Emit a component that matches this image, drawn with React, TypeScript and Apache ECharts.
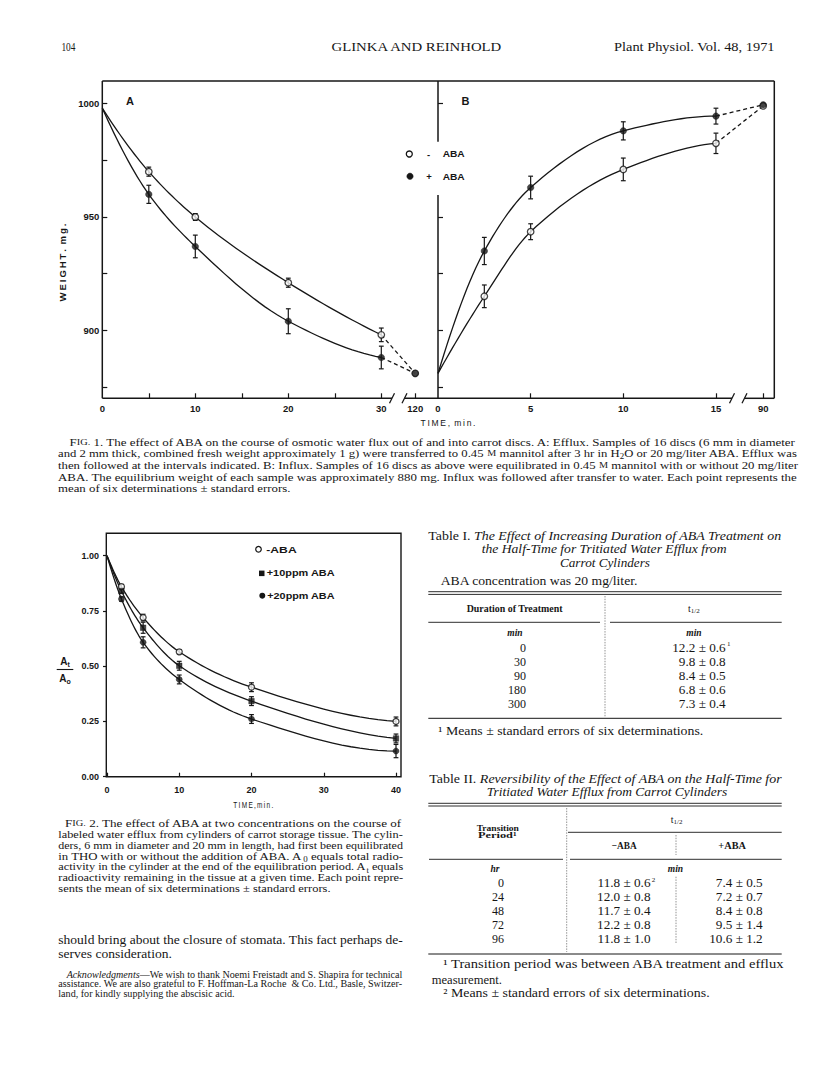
import React, { useEffect, useRef } from 'react';
import * as echarts from 'echarts';

// ---------------- DATA ----------------
// Fig. 1A efflux (weight, mg)
const A_TIMES = [0, 5, 10, 20, 30, 120];
const A_MINUS = [998, 970, 950, 921, 898, 881];
const A_MINUS_ERR = [0, 2, 1.5, 2, 3, 0];
const A_PLUS = [998, 960, 937, 904, 888, 881];
const A_PLUS_ERR = [0, 4, 5, 5.5, 5, 0];
// Fig. 1B influx
const B_TIMES = [0, 2.5, 5, 10, 15, 90];
const B_MINUS = [881, 915, 943.5, 971, 982.5, 999];
const B_MINUS_ERR = [0, 5, 3.5, 5, 4.5, 0];
const B_PLUS = [881, 935, 963, 988, 994.5, 999.5];
const B_PLUS_ERR = [0, 6, 5, 4, 3.5, 0];
// Fig. 2 (At/Ao)
const F2_TIMES = [0, 2, 5, 10, 20, 40];
const F2_NO_ABA = [1.0, 0.86, 0.72, 0.565, 0.405, 0.25];
const F2_NO_ABA_ERR = [0, 0.01, 0.015, 0.01, 0.02, 0.02];
const F2_10PPM = [1.0, 0.84, 0.674, 0.502, 0.342, 0.173];
const F2_10PPM_ERR = [0, 0.01, 0.025, 0.02, 0.02, 0.02];
const F2_20PPM = [1.0, 0.804, 0.608, 0.44, 0.261, 0.116];
const F2_20PPM_ERR = [0, 0.01, 0.025, 0.02, 0.02, 0.03];

// ticks / labels
const A_Y_TICKS = [875, 900, 925, 950, 975, 1000];
const B_Y_TICKS = [875, 900, 925, 950, 1000];
const A_Y_LABELS = [900, 950, 1000];
const A_X_TICKS = [5, 10, 15, 20, 25, 30];
const A_X_LABELS = [0, 10, 20, 30];
const B_X_TICKS = [5, 10, 15];
const B_X_LABELS = [0, 5, 10, 15];
const A_BREAK = { value: 120, at: 33.65 };
const B_BREAK = { value: 90, at: 17.55 };

// tables
const T1_DURATION = ['0', '30', '90', '180', '300'];
const T1_HALF = ['12.2 ± 0.6', '9.8 ± 0.8', '8.4 ± 0.5', '6.8 ± 0.6', '7.3 ± 0.4'];
const T2_PERIOD = ['0', '24', '48', '72', '96'];
const T2_MINUS = ['11.8 ± 0.6', '12.0 ± 0.8', '11.7 ± 0.4', '12.2 ± 0.8', '11.8 ± 1.0'];
const T2_PLUS = ['7.4 ± 0.5', '7.2 ± 0.7', '8.4 ± 0.8', '9.5 ± 1.4', '10.6 ± 1.2'];

// ---------------- STYLE ----------------
const INK = '#161616';
const SERIF = "'Liberation Serif', 'Times New Roman', serif";
const SANS = "'Liberation Sans', Arial, Helvetica, sans-serif";

let _ctx: any = null;
function mw(text: string, font: string) {
  if (!_ctx) _ctx = document.createElement('canvas').getContext('2d');
  _ctx.font = font;
  return _ctx.measureText(text).width;
}
function fs(size: number, family: string, style = 'normal', weight = 'normal') {
  return `${style} ${weight} ${size}px ${family}`;
}
function richFor(size: number, family: string, weight: string) {
  return {
    i: { font: fs(size, family, 'italic', weight) },
    sc: { font: fs(Math.round(size * 0.8 * 10) / 10, family, 'normal', weight) },
    sub: { font: fs(Math.round(size * 0.7 * 10) / 10, family, 'normal', weight), verticalAlign: 'bottom', lineHeight: size * 0.7 },
    sup: { font: fs(Math.round(size * 0.65 * 10) / 10, family, 'normal', weight), verticalAlign: 'top', lineHeight: size * 0.65 },
  } as any;
}
function tx(segs: any, x: number, y: number, size: number, opts: any = {}) {
  const family = opts.family || SERIF;
  const weight = opts.weight || 'normal';
  const style = opts.style || 'normal';
  const base = fs(size, family, style, weight);
  const rich = richFor(size, family, weight);
  const list = typeof segs === 'string' ? [segs] : segs;
  let natural = 0;
  let str = '';
  let hasRich = false;
  for (const s of list) {
    if (typeof s === 'string') {
      natural += mw(s, base);
      str += s;
    } else {
      hasRich = true;
      natural += mw(s[0], rich[s[1]].font);
      str += '{' + s[1] + '|' + s[0] + '}';
    }
  }
  const sx = opts.w ? opts.w / natural : opts.sx || 1;
  const st: any = {
    text: str,
    font: base,
    fill: opts.fill || INK,
    textAlign: opts.align || 'left',
    textVerticalAlign: 'middle',
  };
  if (hasRich) {
    st.rich = rich;
    st.lineHeight = size * 1.3;
  }
  return { type: 'text', x, y, scaleX: sx, rotation: opts.rotation || 0, style: st, z: 10, silent: true };
}
function para(lines: any[], right: number, y0: number, dy: number, size: number, opts: any = {}) {
  const els: any[] = [];
  const scales: number[] = [];
  lines.forEach((l, i) => {
    const last = i === lines.length - 1 && !l.full;
    if (!last) {
      const el = tx(l.segs, l.x, y0 + i * dy, size, { ...opts, w: right - l.x });
      scales.push(el.scaleX);
      els.push(el);
    } else {
      const avg = scales.length ? scales.reduce((a, b) => a + b, 0) / scales.length : 1;
      els.push(tx(l.segs, l.x, y0 + i * dy, size, { ...opts, sx: avg }));
    }
  });
  return els;
}
function ln(x1: number, y1: number, x2: number, y2: number, w = 1.3, dash?: number[], color = INK) {
  return { type: 'line', shape: { x1, y1, x2, y2 }, style: { stroke: color, lineWidth: w, lineDash: dash || null }, z: 5, silent: true };
}

// ---------------- GEOMETRY ----------------
const F1 = { top: 81, bottom: 398.3, aLeft: 102.3, mid: 438, right: 774.3 };
const A_PX = 9.3; // px per minute, panel A
const B_PX = 18.53; // px per minute, panel B
const F2 = { left: 107, top: 555.7, width: 289, height: 221, fTop: 533.3, fLeft: 106.3, fRight: 401, fBottom: 776.7 };

const posA = (t: number) => (t === A_BREAK.value ? A_BREAK.at : t);
const posB = (t: number) => (t === B_BREAK.value ? B_BREAK.at : t);
const ident = (t: number) => t;
const pts = (times: number[], vals: number[], pos: (t: number) => number, from: number, to: number) =>
  times.slice(from, to).map((t, i) => [pos(t), vals[from + i]]);

// monotone cubic (Fritsch–Carlson) path through pixel points
function pchip(P: number[][], steps = 16) {
  const n = P.length;
  if (n < 3) return P;
  const h: number[] = [], d: number[] = [];
  for (let i = 0; i < n - 1; i++) {
    h[i] = P[i + 1][0] - P[i][0];
    d[i] = (P[i + 1][1] - P[i][1]) / h[i];
  }
  const m: number[] = new Array(n).fill(0);
  const endSlope = (h0: number, h1: number, d0: number, d1: number) => {
    let s = ((2 * h0 + h1) * d0 - h0 * d1) / (h0 + h1);
    if (Math.sign(s) !== Math.sign(d0)) s = 0;
    else if (Math.sign(d0) !== Math.sign(d1) && Math.abs(s) > Math.abs(3 * d0)) s = 3 * d0;
    return s;
  };
  m[0] = endSlope(h[0], h[1], d[0], d[1]);
  m[n - 1] = endSlope(h[n - 2], h[n - 3], d[n - 2], d[n - 3]);
  for (let i = 1; i < n - 1; i++) {
    if (d[i - 1] * d[i] <= 0) m[i] = 0;
    else {
      const w1 = 2 * h[i] + h[i - 1];
      const w2 = h[i] + 2 * h[i - 1];
      m[i] = (w1 + w2) / (w1 / d[i - 1] + w2 / d[i]);
    }
  }
  const out: number[][] = [];
  for (let i = 0; i < n - 1; i++) {
    for (let s = 0; s <= steps; s++) {
      if (i > 0 && s === 0) continue;
      const t = s / steps;
      const t2 = t * t, t3 = t2 * t;
      const h00 = 2 * t3 - 3 * t2 + 1, h10 = t3 - 2 * t2 + t, h01 = -2 * t3 + 3 * t2, h11 = t3 - t2;
      out.push([
        P[i][0] + t * h[i],
        h00 * P[i][1] + h10 * h[i] * m[i] + h01 * P[i + 1][1] + h11 * h[i] * m[i + 1],
      ]);
    }
  }
  return out;
}

function curve(axis: number, data: number[][]) {
  return {
    type: 'custom', xAxisIndex: axis, yAxisIndex: axis, silent: true, z: 2, data,
    renderItem: (params: any, api: any) => {
      if (params.dataIndex !== 0) return null;
      const px = data.map((p) => api.coord(p));
      return {
        type: 'polyline',
        shape: { points: pchip(px) },
        style: { stroke: INK, lineWidth: 1.3, fill: null },
      };
    },
  };
}
function dashed(axis: number, data: number[][]) {
  return {
    type: 'line', xAxisIndex: axis, yAxisIndex: axis, data, symbol: 'none', silent: true,
    lineStyle: { color: INK, width: 1.3, type: [4, 3] }, z: 2,
  };
}
function errSeries(axis: number, times: number[], vals: number[], errs: number[], pos: (t: number) => number) {
  return {
    type: 'custom', xAxisIndex: axis, yAxisIndex: axis, silent: true, z: 3,
    data: times.map((t, i) => [pos(t), vals[i], errs[i]]).filter((d) => d[2] > 0),
    renderItem: (params: any, api: any) => {
      const x = api.value(0), y = api.value(1), e = api.value(2);
      const p1 = api.coord([x, y + e]);
      const p2 = api.coord([x, y - e]);
      const w = 2.4;
      const s = { stroke: INK, lineWidth: 1.2 };
      return {
        type: 'group',
        children: [
          { type: 'line', shape: { x1: p1[0], y1: p1[1], x2: p2[0], y2: p2[1] }, style: s },
          { type: 'line', shape: { x1: p1[0] - w, y1: p1[1], x2: p1[0] + w, y2: p1[1] }, style: s },
          { type: 'line', shape: { x1: p2[0] - w, y1: p2[1], x2: p2[0] + w, y2: p2[1] }, style: s },
        ],
      };
    },
  };
}
function markers(axis: number, data: any[], kind: 'open' | 'filled' | 'square', size: number) {
  return {
    type: 'scatter', xAxisIndex: axis, yAxisIndex: axis, data, silent: true, z: 4,
    symbol: kind === 'square' ? 'rect' : 'circle', symbolSize: size,
    itemStyle: kind === 'open'
      ? { color: '#fff', borderColor: INK, borderWidth: 1.3 }
      : { color: INK, borderColor: INK, borderWidth: 0.5 },
  };
}

const tickLabel = { fontFamily: SANS, fontWeight: 'bold', fontSize: 9.5, color: INK };

function buildGraphics() {
  const g: any[] = [];
  // page header
  g.push(tx('104', 61.4, 46.7, 12.5, { w: 14 }));
  g.push(tx('GLINKA AND REINHOLD', 331.5, 46.7, 12.5, { w: 171.5 }));
  g.push(tx('Plant Physiol. Vol. 48, 1971', 614, 46.7, 12.5, { w: 161 }));

  // ---- Fig 1 frame ----
  const { top, bottom, aLeft, mid, right } = F1;
  g.push(ln(aLeft, top, right, top, 1.5));
  g.push(ln(aLeft, top, aLeft, bottom, 1.5));
  g.push(ln(right, top, right, bottom, 1.5));
  g.push(ln(mid, top, mid, 141.7, 1.5));
  g.push(ln(mid, 195, mid, bottom, 1.5));
  g.push(ln(aLeft, bottom, 392, bottom, 1.5));
  g.push(ln(404.5, bottom, mid, bottom, 1.5));
  g.push(ln(mid, bottom, 732, bottom, 1.5));
  g.push(ln(744.5, bottom, right, bottom, 1.5));
  for (const sx of [392, 404.5, 732, 744.5]) g.push(ln(sx - 2.5, bottom + 5, sx + 2.5, bottom - 5, 1.3));
  g.push(tx('A', 130, 100.7, 11, { family: SANS, weight: 'bold', align: 'center' }));
  g.push(tx('B', 465.5, 100.7, 11, { family: SANS, weight: 'bold', align: 'center' }));
  g.push(tx('W\u2009E\u2009I\u2009G\u2009H\u2009T\u2009.\u2009 m\u2009g\u2009.', 62.7, 262.5, 9.5,
    { family: SANS, weight: 'bold', align: 'center', rotation: Math.PI / 2, w: 78 }));
  g.push(tx('T\u2009I\u2009M\u2009E\u2009,\u2009 m\u2009i\u2009n\u2009.', 448, 423, 9, { family: SANS, align: 'center', w: 55 }));
  // legend
  g.push({ type: 'circle', shape: { cx: 409.3, cy: 154, r: 3 }, style: { fill: '#fff', stroke: INK, lineWidth: 1.3 }, z: 10 });
  g.push(tx('-', 428.5, 154, 9.5, { family: SANS, weight: 'bold', align: 'center' }));
  g.push(tx('ABA', 442.7, 154, 9.5, { family: SANS, weight: 'bold', w: 22 }));
  g.push({ type: 'circle', shape: { cx: 410, cy: 176.3, r: 3.2 }, style: { fill: INK, stroke: INK, lineWidth: 0.5 }, z: 10 });
  g.push(tx('+', 429, 176.3, 9.5, { family: SANS, weight: 'bold', align: 'center' }));
  g.push(tx('ABA', 442.7, 176.3, 9.5, { family: SANS, weight: 'bold', w: 22 }));

  // ---- Fig 1 caption ----
  g.push(...para([
    { x: 69.6, segs: ['F', ['IG.', 'sc'], ' 1. The effect of ABA on the course of osmotic water flux out of and into carrot discs. A: Efflux. Samples of 16 discs (6 mm in diameter'] },
    { x: 58, segs: ['and 2 mm thick, combined fresh weight approximately 1 g) were transferred to 0.45 ', ['M', 'sc'], ' mannitol after 3 hr in H', ['2', 'sub'], 'O or 20 mg/liter ABA. Efflux was'] },
    { x: 58, segs: ['then followed at the intervals indicated. B: Influx. Samples of 16 discs as above were equilibrated in 0.45 ', ['M', 'sc'], ' mannitol with or without 20 mg/liter'] },
    { x: 58, segs: ['ABA. The equilibrium weight of each sample was approximately 880 mg. Influx was followed after transfer to water. Each point represents the'] },
    { x: 58, segs: ['mean of six determinations ± standard errors.'] },
  ], 798, 442, 11.7, 11));

  // ---- Fig 2 frame, labels, legend ----
  g.push({ type: 'rect', shape: { x: F2.fLeft, y: F2.fTop, width: F2.fRight - F2.fLeft, height: F2.fBottom - F2.fTop },
    style: { fill: 'none', stroke: INK, lineWidth: 1.4 }, z: 5, silent: true });
  g.push(tx(['A', ['t', 'sub']], 65, 661.7, 10, { family: SANS, weight: 'bold', align: 'center' }));
  g.push(ln(56.7, 669.5, 73.3, 669.5, 1.1));
  g.push(tx(['A', ['o', 'sub']], 65, 678.5, 10, { family: SANS, weight: 'bold', align: 'center' }));
  g.push(tx('T\u2009I\u2009M\u2009E\u2009,\u2009m\u2009i\u2009n\u2009.', 253.3, 805, 9, { family: SANS, align: 'center', w: 40 }));
  g.push({ type: 'circle', shape: { cx: 258.5, cy: 549.3, r: 2.8 }, style: { fill: '#fff', stroke: INK, lineWidth: 1.2 }, z: 10 });
  g.push(tx('-ABA', 266.3, 549.3, 9, { family: SANS, weight: 'bold', w: 30.4 }));
  g.push({ type: 'rect', shape: { x: 259, y: 570.6, width: 5.5, height: 5.5 }, style: { fill: INK }, z: 10 });
  g.push(tx('+10ppm ABA', 266.7, 573.3, 9, { family: SANS, weight: 'bold', w: 68.3 }));
  g.push({ type: 'circle', shape: { cx: 262.3, cy: 595.7, r: 3 }, style: { fill: INK }, z: 10 });
  g.push(tx('+20ppm ABA', 267.3, 595.7, 9, { family: SANS, weight: 'bold', w: 67.7 }));

  // ---- Fig 2 caption ----
  g.push(...para([
    { x: 65, segs: ['F', ['IG.', 'sc'], ' 2. The effect of ABA at two concentrations on the course of'] },
    { x: 58.3, segs: ['labeled water efflux from cylinders of carrot storage tissue. The cylin-'] },
    { x: 58.3, segs: ['ders, 6 mm in diameter and 20 mm in length, had first been equilibrated'] },
    { x: 58.3, segs: ['in THO with or without the addition of ABA. A', ['0', 'sub'], ' equals total radio-'] },
    { x: 58.3, segs: ['activity in the cylinder at the end of the equilibration period. A', ['t', 'sub'], ' equals'] },
    { x: 58.3, segs: ['radioactivity remaining in the tissue at a given time. Each point repre-'] },
    { x: 58.3, segs: ['sents the mean of six determinations ± standard errors.'] },
  ], 403.3, 823.3, 10.95, 11));

  // ---- body text ----
  g.push(...para([
    { x: 58.3, segs: ['should bring about the closure of stomata. This fact perhaps de-'] },
    { x: 58.3, segs: ['serves consideration.'] },
  ], 403, 940, 13.3, 13.5));
  g.push(...para([
    { x: 66.7, segs: [['Acknowledgments', 'i'], '—We wish to thank Noemi Freistadt and S. Shapira for technical'] },
    { x: 58.3, segs: ['assistance. We are also grateful to F. Hoffman-La Roche  & Co. Ltd., Basle, Switzer-'] },
    { x: 58.3, segs: ['land, for kindly supplying the abscisic acid.'] },
  ], 402.7, 975, 9.1, 9.5));

  // ---- Table I ----
  g.push(tx(['Table I. ', ['The Effect of Increasing Duration of ABA Treatment on', 'i']], 428.3, 536.7, 11.5, { w: 353.4 }));
  g.push(tx([['the Half-Time for Tritiated Water Efflux from', 'i']], 481.7, 549.7, 11.5, { w: 245 }));
  g.push(tx([['Carrot Cylinders', 'i']], 560, 563.3, 11.5, { w: 90 }));
  g.push(tx('ABA concentration was 20 mg/liter.', 440.7, 581, 12.5, { w: 197.6 }));
  g.push(ln(428.3, 591.7, 781.7, 591.7, 0.9));
  g.push(ln(428.3, 594.4, 781.7, 594.4, 0.9));
  g.push(ln(605, 596, 605, 717, 0.8, [1.5, 1.2], '#777'));
  g.push(tx('Duration of Treatment', 466.7, 608.3, 9.5, { w: 96, weight: 'bold' }));
  g.push(tx(['t', ['1/2', 'sub']], 688, 608.3, 10, {}));
  g.push(ln(428.3, 622.3, 600, 622.3, 0.9));
  g.push(ln(610, 622.3, 781.7, 622.3, 0.9));
  g.push(tx('min', 515, 632.7, 9.5, { style: 'italic', weight: 'bold', align: 'center' }));
  g.push(tx('min', 694, 632.7, 9.5, { style: 'italic', weight: 'bold', align: 'center' }));
  const t1y = [647.7, 662, 676, 689.7, 704];
  T1_DURATION.forEach((v, i) => g.push(tx(v, 526, t1y[i], 12, { align: 'right' })));
  T1_HALF.forEach((v, i) => g.push(tx(v, 725.7, t1y[i], 12, { align: 'right', sx: 1.1 })));
  g.push(tx('1', 727, t1y[0] - 3.5, 7, {}));
  g.push(ln(428.3, 718.3, 781.7, 718.3, 1.0));
  g.push(tx('¹ Means ± standard errors of six determinations.', 438.3, 731, 12, { w: 265 }));

  // ---- Table II ----
  g.push(tx(['Table II. ', ['Reversibility of the Effect of ABA on the Half-Time for', 'i']], 429.3, 779.3, 11.5, { w: 353.4 }));
  g.push(tx([['Tritiated Water Efflux from Carrot Cylinders', 'i']], 486.7, 792.3, 11.5, { w: 240.6 }));
  g.push(ln(428.3, 803.3, 781.7, 803.3, 0.9));
  g.push(ln(428.3, 806, 781.7, 806, 0.9));
  g.push(ln(566.7, 808, 566.7, 952, 0.8, [1.5, 1.2], '#777'));
  g.push(tx(['t', ['1/2', 'sub']], 676.7, 819.3, 10, { align: 'center' }));
  g.push(ln(568, 832.3, 781.7, 832.3, 0.9));
  g.push(tx('Transition', 476.7, 828.3, 9, { w: 42.3, weight: 'bold' }));
  g.push(tx('Period¹', 478, 834.5, 9, { w: 38.7, weight: 'bold' }));
  g.push(tx('\u2212ABA', 611.7, 845.3, 10, { w: 25, weight: 'bold' }));
  g.push(tx('+ABA', 718.3, 845.3, 10, { w: 27.7, weight: 'bold' }));
  g.push(ln(676, 835, 676, 855, 0.8, [1.5, 1.2], '#777'));
  g.push(ln(429, 859.3, 563, 859.3, 0.9));
  g.push(ln(570, 859.3, 781.7, 859.3, 0.9));
  g.push(tx('hr', 495, 869, 9.5, { style: 'italic', weight: 'bold', align: 'center' }));
  g.push(tx('min', 675.5, 869, 9.5, { style: 'italic', weight: 'bold', align: 'center' }));
  g.push(ln(676, 876.7, 676, 943.3, 0.8, [1.5, 1.2], '#777'));
  const t2y = [883.3, 897, 910.7, 924.7, 938.7];
  T2_PERIOD.forEach((v, i) => g.push(tx(v, 504, t2y[i], 12, { align: 'right' })));
  T2_MINUS.forEach((v, i) => g.push(tx(v, 650.5, t2y[i], 12, { align: 'right', sx: 1.1 })));
  T2_PLUS.forEach((v, i) => g.push(tx(v, 762.7, t2y[i], 12, { align: 'right', sx: 1.1 })));
  g.push(tx('2', 651.8, t2y[0] - 3.5, 7, {}));
  g.push(ln(428.3, 954, 781.7, 954, 1.0));
  g.push(tx('¹ Transition period was between ABA treatment and efflux', 443.3, 964, 12, { w: 342.4 }));
  g.push(tx('measurement.', 431.7, 980, 12, { sx: 1.05 }));
  g.push(tx('² Means ± standard errors of six determinations.', 443.3, 992.7, 12, { w: 266.7 }));
  return g;
}

function buildOption() {
  const fmtA = (v: number) => (Math.abs(v - A_BREAK.at) < 0.01 ? String(A_BREAK.value) : String(v));
  const fmtB = (v: number) => (Math.abs(v - B_BREAK.at) < 0.01 ? String(B_BREAK.value) : String(v));
  const H1 = F1.bottom - F1.top;
  return {
    animation: false,
    backgroundColor: '#fff',
    grid: [
      { left: F1.aLeft, top: F1.top, width: F1.mid - F1.aLeft, height: H1, containLabel: false, outerBoundsMode: 'none' },
      { left: F1.mid, top: F1.top, width: F1.right - F1.mid, height: H1, containLabel: false, outerBoundsMode: 'none' },
      { left: F2.left, top: F2.top, width: F2.width, height: F2.height, containLabel: false, outerBoundsMode: 'none' },
    ],
    xAxis: [
      {
        type: 'value', gridIndex: 0, min: 0, max: (F1.mid - F1.aLeft) / A_PX,
        axisLine: { show: false }, splitLine: { show: false },
        axisTick: { show: true, inside: true, length: 5, customValues: [...A_X_TICKS, A_BREAK.at], lineStyle: { color: INK, width: 1.2 } },
        axisLabel: { ...tickLabel, margin: 5, customValues: [...A_X_LABELS, A_BREAK.at], formatter: fmtA },
      },
      {
        type: 'value', gridIndex: 1, min: 0, max: (F1.right - F1.mid) / B_PX,
        axisLine: { show: false }, splitLine: { show: false },
        axisTick: { show: true, inside: true, length: 5, customValues: [...B_X_TICKS, B_BREAK.at], lineStyle: { color: INK, width: 1.2 } },
        axisLabel: { ...tickLabel, margin: 5, customValues: [...B_X_LABELS, B_BREAK.at], formatter: fmtB },
      },
      {
        type: 'value', gridIndex: 2, min: 0, max: 40, interval: 10,
        axisLine: { show: false }, splitLine: { show: false },
        axisTick: { show: true, inside: true, length: 4, lineStyle: { color: INK, width: 1.2 } },
        axisLabel: { ...tickLabel, fontSize: 9, margin: 9 },
      },
    ],
    yAxis: [
      {
        type: 'value', gridIndex: 0, min: 870, max: 1010,
        axisLine: { show: false }, splitLine: { show: false },
        axisTick: { show: true, inside: true, length: 5, customValues: A_Y_TICKS, lineStyle: { color: INK, width: 1.2 } },
        axisLabel: { ...tickLabel, margin: 3, customValues: A_Y_LABELS, formatter: (v: number) => String(v) },
      },
      {
        type: 'value', gridIndex: 1, min: 870, max: 1010,
        axisLine: { show: false }, splitLine: { show: false },
        axisTick: { show: true, inside: true, length: 5, customValues: B_Y_TICKS, lineStyle: { color: INK, width: 1.2 } },
        axisLabel: { show: false },
      },
      {
        type: 'value', gridIndex: 2, min: 0, max: 1, interval: 0.25,
        axisLine: { show: false }, splitLine: { show: false },
        axisTick: { show: true, inside: false, length: 4, lineStyle: { color: INK, width: 1.2 } },
        axisLabel: { ...tickLabel, fontSize: 9, margin: 8, formatter: (v: number) => v.toFixed(2) },
      },
    ],
    series: [
      // Fig 1A
      curve(0, pts(A_TIMES, A_MINUS, posA, 0, 5)),
      curve(0, pts(A_TIMES, A_PLUS, posA, 0, 5)),
      dashed(0, pts(A_TIMES, A_MINUS, posA, 4, 6)),
      dashed(0, pts(A_TIMES, A_PLUS, posA, 4, 6)),
      errSeries(0, A_TIMES, A_MINUS, A_MINUS_ERR, posA),
      errSeries(0, A_TIMES, A_PLUS, A_PLUS_ERR, posA),
      markers(0, pts(A_TIMES, A_MINUS, posA, 1, 6), 'open', 6.5),
      markers(0, pts(A_TIMES, A_PLUS, posA, 1, 6), 'filled', 6.5),
      // Fig 1B
      curve(1, pts(B_TIMES, B_MINUS, posB, 0, 5)),
      curve(1, pts(B_TIMES, B_PLUS, posB, 0, 5)),
      dashed(1, pts(B_TIMES, B_MINUS, posB, 4, 6)),
      dashed(1, pts(B_TIMES, B_PLUS, posB, 4, 6)),
      errSeries(1, B_TIMES, B_MINUS, B_MINUS_ERR, posB),
      errSeries(1, B_TIMES, B_PLUS, B_PLUS_ERR, posB),
      markers(1, pts(B_TIMES, B_MINUS, posB, 1, 6), 'open', 6.5),
      markers(1, pts(B_TIMES, B_PLUS, posB, 1, 6), 'filled', 6.5),
      // Fig 2
      curve(2, pts(F2_TIMES, F2_NO_ABA, ident, 0, 6)),
      curve(2, pts(F2_TIMES, F2_10PPM, ident, 0, 6)),
      curve(2, pts(F2_TIMES, F2_20PPM, ident, 0, 6)),
      errSeries(2, F2_TIMES, F2_NO_ABA, F2_NO_ABA_ERR, ident),
      errSeries(2, F2_TIMES, F2_10PPM, F2_10PPM_ERR, ident),
      errSeries(2, F2_TIMES, F2_20PPM, F2_20PPM_ERR, ident),
      markers(2, pts(F2_TIMES, F2_NO_ABA, ident, 1, 6), 'open', 6),
      markers(2, pts(F2_TIMES, F2_10PPM, ident, 1, 6), 'square', 5.5),
      markers(2, pts(F2_TIMES, F2_20PPM, ident, 1, 6), 'filled', 6),
    ],
    graphic: { elements: buildGraphics() },
  };
}

export default function App() {
  const ref = useRef<HTMLDivElement>(null);
  useEffect(() => {
    const el = ref.current as HTMLDivElement;
    const chart = echarts.init(el, null, { renderer: 'svg' });
    chart.setOption(buildOption() as any);
    return () => chart.dispose();
  }, []);
  return (
    <div
      ref={ref}
      style={{ position: 'absolute', left: 0, top: 0, width: 816, height: 1079, background: '#fff' }}
    />
  );
}
